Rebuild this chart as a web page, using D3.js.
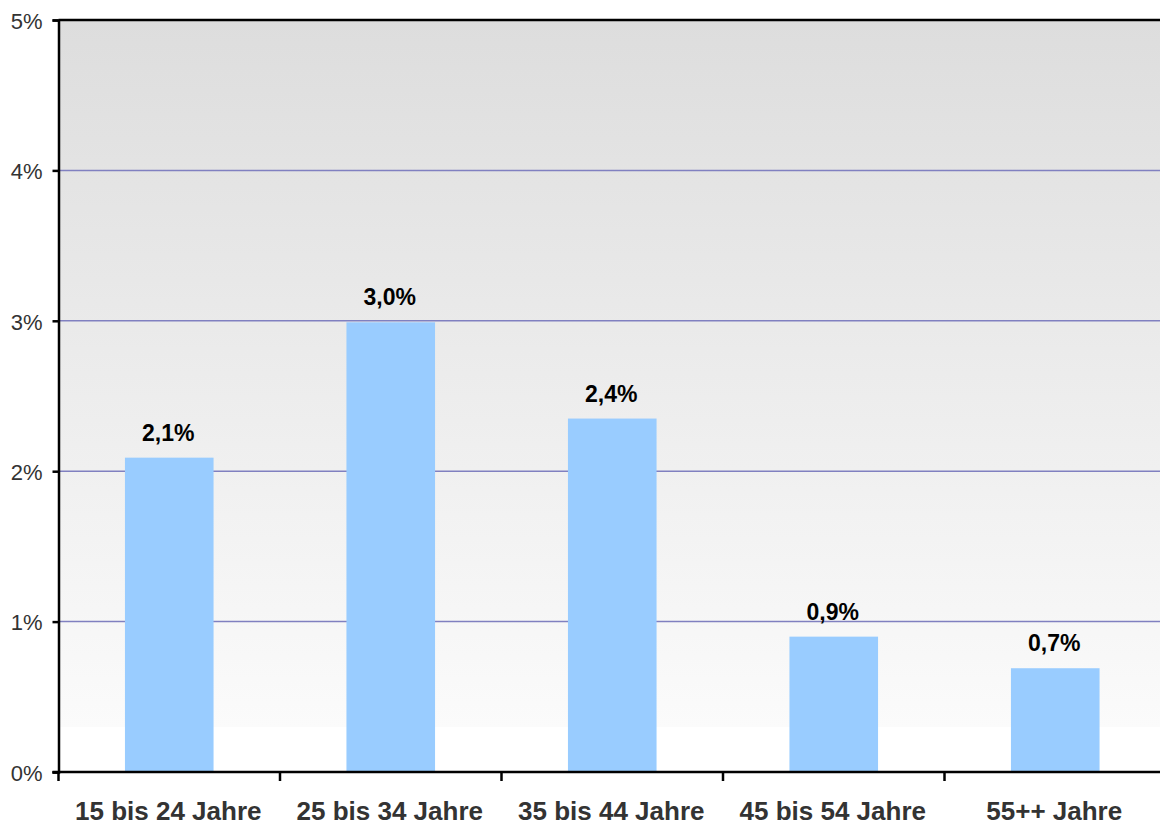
<!DOCTYPE html>
<html>
<head>
<meta charset="utf-8">
<script src="https://cdn.jsdelivr.net/npm/d3@7"></script>
<style>
  body { margin: 0; background: #fff; }
  svg { display: block; font-family: "Liberation Sans", Arial, Helvetica, sans-serif; }
</style>
</head>
<body>
<div id="chart"></div>
<script>
// Daten
var categories = ["15 bis 24 Jahre", "25 bis 34 Jahre", "35 bis 44 Jahre", "45 bis 54 Jahre", "55++ Jahre"];
var values = [2.09, 2.99, 2.35, 0.90, 0.69];
var valueLabels = ["2,1%", "3,0%", "2,4%", "0,9%", "0,7%"];
var yTicks = [0, 1, 2, 3, 4, 5];

(function() {
  var W = 1160, H = 825;
  var pLeft = 58.5, pTop = 20, pBottom = 772, pRight = 1166;

  var svg = d3.select('#chart').append('svg')
    .attr('width', W).attr('height', H);

  var defs = svg.append('defs');
  var grad = defs.append('linearGradient').attr('id', 'bg')
    .attr('x1', 0).attr('y1', 0).attr('x2', 0).attr('y2', 1);
  grad.append('stop').attr('offset', '0%').attr('stop-color', '#dddddd');
  grad.append('stop').attr('offset', '94%').attr('stop-color', '#fbfbfb');
  grad.append('stop').attr('offset', '94%').attr('stop-color', '#ffffff');
  grad.append('stop').attr('offset', '100%').attr('stop-color', '#ffffff');

  var x = d3.scaleBand().domain(categories).range([pLeft, pRight]).paddingInner(0).paddingOuter(0);
  var y = d3.scaleLinear().domain([0, 5]).range([pBottom, pTop]);

  // Hintergrund
  svg.append('rect')
    .attr('x', pLeft).attr('y', pTop)
    .attr('width', pRight - pLeft).attr('height', pBottom - pTop)
    .attr('fill', 'url(#bg)');

  // Gitterlinien
  svg.append('g').selectAll('line')
    .data(yTicks.filter(function(d) { return d > 0 && d < 5; }))
    .enter().append('line')
    .attr('x1', pLeft).attr('x2', pRight)
    .attr('y1', function(d) { return y(d); })
    .attr('y2', function(d) { return y(d); })
    .attr('stroke', '#8080c0')
    .attr('stroke-width', 1.5);

  // Balken
  var bw = x.bandwidth() * 0.4;
  svg.append('g').selectAll('rect')
    .data(values)
    .enter().append('rect')
    .attr('x', function(d, i) { return x(categories[i]) + (x.bandwidth() - bw) / 2; })
    .attr('y', function(d) { return y(d); })
    .attr('width', bw)
    .attr('height', function(d) { return pBottom - y(d); })
    .attr('fill', '#99ccff');

  // Werte
  svg.append('g').selectAll('text')
    .data(values)
    .enter().append('text')
    .attr('x', function(d, i) { return x(categories[i]) + x.bandwidth() / 2 - 1; })
    .attr('y', function(d) { return y(d) - 17; })
    .attr('text-anchor', 'middle')
    .attr('font-size', 23)
    .attr('font-weight', 'bold')
    .attr('fill', '#000')
    .text(function(d, i) { return valueLabels[i]; });

  // Rahmen oben
  svg.append('line')
    .attr('x1', pLeft).attr('x2', pRight)
    .attr('y1', pTop).attr('y2', pTop)
    .attr('stroke', '#000').attr('stroke-width', 2.5);

  // Y-Achse
  var yAxis = d3.axisLeft(y).tickValues(yTicks).tickSize(6).tickPadding(10)
    .tickFormat(function(d) { return d + '%'; });
  var gy = svg.append('g').attr('transform', 'translate(' + pLeft + ',0)').call(yAxis);
  gy.select('.domain').attr('stroke', '#000').attr('stroke-width', 2.5);
  gy.selectAll('.tick line').attr('stroke', '#000').attr('stroke-width', 2.5);
  gy.selectAll('.tick text')
    .attr('font-size', 22)
    .attr('font-family', '"Liberation Sans", Arial, sans-serif')
    .attr('fill', '#333')
    .attr('dy', '0.38em');

  // X-Achse
  svg.append('line')
    .attr('x1', pLeft - 6).attr('x2', pRight)
    .attr('y1', pBottom).attr('y2', pBottom)
    .attr('stroke', '#000').attr('stroke-width', 2.5);

  svg.append('g').selectAll('line')
    .data(categories)
    .enter().append('line')
    .attr('x1', function(d) { return x(d); })
    .attr('x2', function(d) { return x(d); })
    .attr('y1', pBottom).attr('y2', pBottom + 9)
    .attr('stroke', '#000').attr('stroke-width', 2.5);

  svg.append('g').selectAll('text')
    .data(categories)
    .enter().append('text')
    .attr('x', function(d) { return x(d) + x.bandwidth() / 2 - 1; })
    .attr('y', 820)
    .attr('text-anchor', 'middle')
    .attr('font-size', 26)
    .attr('font-weight', 'bold')
    .attr('fill', '#333')
    .text(function(d) { return d; });
})();
</script>
</body>
</html>
